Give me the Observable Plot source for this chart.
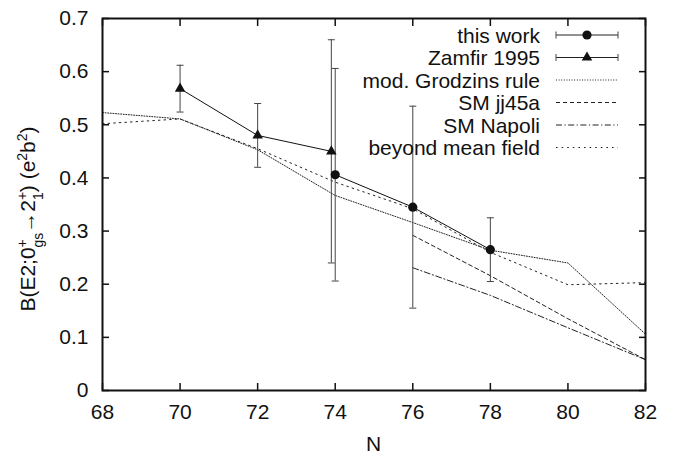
<!DOCTYPE html>
<html>
<head>
<meta charset="utf-8">
<script src="https://cdn.jsdelivr.net/npm/d3@7"></script>
<script src="https://cdn.jsdelivr.net/npm/@observablehq/plot@0.6"></script>
<style>
  body { margin: 0; background: #fff; }
  #chart svg { font-family: "Liberation Sans", Arial, Helvetica, sans-serif; }
</style>
</head>
<body>
<div id="chart"></div>
<script>
// B(E2; 0+ -> 2+) strengths along the isotopic chain, versus neutron number N

// measured: this work
const thisWorkN = [74, 76, 78];
const thisWorkB = [0.406, 0.345, 0.265];
const thisWorkErr = [0.200, 0.190, 0.060];

// measured: Zamfir 1995
const zamfirN = [70, 72, 73.9];
const zamfirB = [0.568, 0.480, 0.450];
const zamfirErr = [0.044, 0.060, 0.210];

// calculations
const grodzinsN = [68, 70, 72, 74, 76, 78, 80, 82];
const grodzinsB = [0.523, 0.511, 0.453, 0.367, 0.316, 0.264, 0.240, 0.106];

const jj45aN = [76, 78, 80, 82];
const jj45aB = [0.292, 0.216, 0.135, 0.058];

const napoliN = [76, 78, 80, 82];
const napoliB = [0.231, 0.179, 0.118, 0.058];

const bmfN = [68, 70, 72, 74, 76, 78, 80, 82];
const bmfB = [0.502, 0.511, 0.455, 0.392, 0.342, 0.260, 0.199, 0.203];

// axis ticks
const xTicks = [68, 70, 72, 74, 76, 78, 80, 82];
const yTicks = [0, 0.1, 0.2, 0.3, 0.4, 0.5, 0.6, 0.7];

// legend entries
const legendLabels = ["this work", "Zamfir 1995", "mod. Grodzins rule", "SM jj45a", "SM Napoli", "beyond mean field"];

const rows = (ns, bs, es) => ns.map((n, i) => ({n, b: bs[i], e: es ? es[i] : 0}));
const thisWork = rows(thisWorkN, thisWorkB, thisWorkErr);
const zamfir = rows(zamfirN, zamfirB, zamfirErr);
const grodzins = rows(grodzinsN, grodzinsB);
const jj45a = rows(jj45aN, jj45aB);
const napoli = rows(napoliN, napoliB);
const bmf = rows(bmfN, bmfB);

// line styles
const DASH = {
  grodzins: "1,1.6",
  jj45a: "4,3",
  napoli: "6,2.5,1.2,2.5",
  bmf: "1.6,4"
};
const INK = "#111";
const BAR = "#444";
const TICK_FONT = 21;
const LABEL_FONT = 21;

// small horizontal cap for error bars
const capSymbol = {
  draw(ctx, size) {
    const r = Math.sqrt(size / Math.PI);
    ctx.moveTo(-r, 0);
    ctx.lineTo(r, 0);
  }
};

const errorMarks = (data) => [
  Plot.ruleX(data, {x: "n", y1: d => d.b - d.e, y2: d => d.b + d.e, stroke: BAR, strokeWidth: 1}),
  Plot.dot(data, {x: "n", y: d => d.b - d.e, symbol: capSymbol, r: 3.5, stroke: BAR, strokeWidth: 1, fill: "none"}),
  Plot.dot(data, {x: "n", y: d => d.b + d.e, symbol: capSymbol, r: 3.5, stroke: BAR, strokeWidth: 1, fill: "none"})
];

const calcLine = (data, dash) =>
  Plot.line(data, {x: "n", y: "b", stroke: "#222", strokeWidth: 1, strokeDasharray: dash});

const W = 686, H = 456;
const M = {top: 18, right: 41, bottom: 66, left: 102};

const chart = Plot.plot({
  width: W,
  height: H,
  marginTop: M.top,
  marginRight: M.right,
  marginBottom: M.bottom,
  marginLeft: M.left,
  style: {fontSize: `${TICK_FONT}px`, color: INK, background: "#fff"},
  x: {domain: [68, 82], ticks: xTicks, label: null},
  y: {domain: [0, 0.7], ticks: yTicks, label: null},
  marks: [
    calcLine(grodzins, DASH.grodzins),
    calcLine(jj45a, DASH.jj45a),
    calcLine(napoli, DASH.napoli),
    calcLine(bmf, DASH.bmf),
    ...errorMarks(zamfir),
    ...errorMarks(thisWork),
    Plot.line(zamfir, {x: "n", y: "b", stroke: INK, strokeWidth: 1}),
    Plot.line(thisWork, {x: "n", y: "b", stroke: INK, strokeWidth: 1}),
    Plot.dot(zamfir, {x: "n", y: "b", symbol: "triangle", r: 3.9, fill: INK, stroke: "none"}),
    Plot.dot(thisWork, {x: "n", y: "b", symbol: "circle", r: 4.6, fill: INK, stroke: "none"}),
    Plot.axisX({ticks: xTicks, tickSize: -7, tickPadding: 21, strokeWidth: 1.5, fontSize: TICK_FONT}),
    Plot.axisX({anchor: "top", ticks: xTicks, tickSize: -7, strokeWidth: 1.5, tickFormat: () => ""}),
    Plot.axisY({ticks: yTicks, tickSize: -7, tickPadding: 21, strokeWidth: 1.5, fontSize: TICK_FONT,
      tickFormat: d => d === 0 ? "0" : d.toFixed(1)}),
    Plot.axisY({anchor: "right", ticks: yTicks, tickSize: -7, strokeWidth: 1.5, tickFormat: () => ""}),
    Plot.frame({stroke: INK, strokeWidth: 2})
  ]
});

document.getElementById("chart").appendChild(chart);

const svg = d3.select(chart);

// x-axis title
svg.append("text")
  .attr("x", (M.left + W - M.right) / 2)
  .attr("y", 451)
  .attr("text-anchor", "middle")
  .attr("font-size", LABEL_FONT)
  .attr("fill", INK)
  .text("N");

// y-axis title with stacked super/subscripts
const SUB = 14, PLUS_W = 8.2;
const yt = svg.append("text")
  .attr("transform", `translate(35, ${(M.top + H - M.bottom) / 2 + 15}) rotate(-90)`)
  .attr("text-anchor", "middle")
  .attr("font-size", LABEL_FONT)
  .attr("fill", INK);
yt.append("tspan").text("B(E2;0");
yt.append("tspan").attr("font-size", SUB).attr("dy", -8.5).text("+");
yt.append("tspan").attr("font-size", SUB).attr("dx", -PLUS_W).attr("dy", 16).text("gs");
yt.append("tspan").attr("dy", -7.5).text("→2");
yt.append("tspan").attr("font-size", SUB).attr("dy", -8.5).text("+");
yt.append("tspan").attr("font-size", SUB).attr("dx", -PLUS_W).attr("dy", 16).text("1");
yt.append("tspan").attr("dy", -7.5).text(") (e");
yt.append("tspan").attr("font-size", SUB).attr("dy", -8.5).text("2");
yt.append("tspan").attr("dy", 8.5).text("b");
yt.append("tspan").attr("font-size", SUB).attr("dy", -8.5).text("2");
yt.append("tspan").attr("dy", 8.5).text(")");

// legend, top right inside the frame
const lg = svg.append("g").attr("fill", INK);
const textRight = 540, sx0 = 556, sx1 = 618, row0 = 35, rowStep = 22.5;
const styles = [
  {kind: "circle"},
  {kind: "triangle"},
  {dash: DASH.grodzins},
  {dash: DASH.jj45a},
  {dash: DASH.napoli},
  {dash: DASH.bmf}
];
legendLabels.forEach((label, i) => {
  const y = row0 + i * rowStep;
  lg.append("text")
    .attr("x", textRight).attr("y", y)
    .attr("dy", "0.36em")
    .attr("text-anchor", "end")
    .attr("font-size", LABEL_FONT)
    .text(label);
  const s = styles[i];
  const ln = lg.append("line")
    .attr("x1", sx0).attr("x2", sx1).attr("y1", y).attr("y2", y)
    .attr("stroke", "#222").attr("stroke-width", 1);
  if (s.dash) ln.attr("stroke-dasharray", s.dash);
  if (s.kind) {
    [sx0, sx1].forEach(x => lg.append("line")
      .attr("x1", x).attr("x2", x).attr("y1", y - 3.5).attr("y2", y + 3.5)
      .attr("stroke", BAR).attr("stroke-width", 1));
    const cx = (sx0 + sx1) / 2;
    const sym = s.kind === "circle" ? d3.symbolCircle : d3.symbolTriangle;
    const r = s.kind === "circle" ? 4.6 : 3.9;
    lg.append("path")
      .attr("d", d3.symbol(sym, Math.PI * r * r)())
      .attr("transform", `translate(${cx},${y})`)
      .attr("fill", INK);
  }
});
</script>
</body>
</html>
